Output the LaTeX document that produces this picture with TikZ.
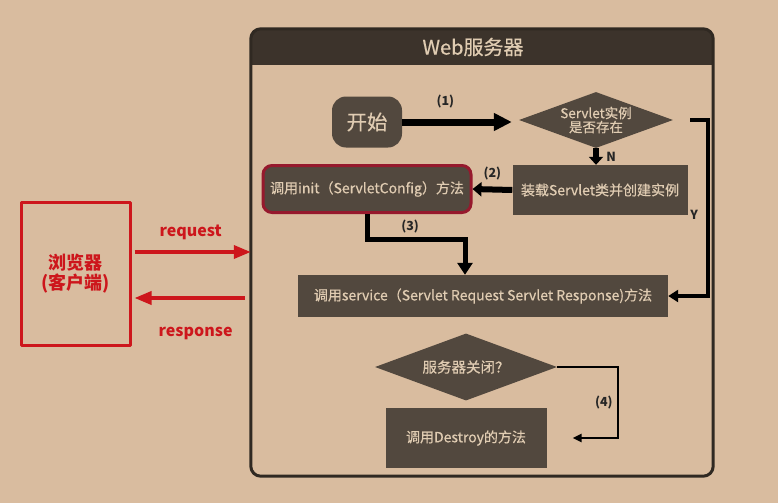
\documentclass[tikz,border=0pt]{standalone}
\usepackage{fontspec}
\setmainfont{Noto Sans CJK SC}
\newfontfamily\medfont{Noto Sans CJK SC}[FakeBold=0.5]
\usepackage{tikz}
\usetikzlibrary{arrows.meta,shapes.geometric}
\definecolor{paper}{RGB}{217,188,159}
\definecolor{boxbrown}{RGB}{82,72,62}
\definecolor{headbrown}{RGB}{60,51,43}
\definecolor{boxtext}{RGB}{224,204,178}
\definecolor{initred}{RGB}{150,25,45}
\definecolor{webred}{RGB}{205,22,28}

\begin{document}
\begin{tikzpicture}[line cap=round,line join=round,x=1pt,y=-1pt,
    box/.style={rectangle,fill=boxbrown,text=boxtext,inner sep=0pt,
        font=\medfont\fontsize{14}{16}\selectfont},
    ask/.style={diamond,fill=boxbrown,text=boxtext,inner sep=0pt,aspect=2.75,
        align=center,font=\medfont\fontsize{13.5}{14}\selectfont},
    flow/.style={line cap=butt,line join=miter,draw=black},
    lbl/.style={font=\fontsize{12.5}{14}\selectfont\bfseries,text=black!85},
    redarrow/.style={draw=webred,line width=3.5pt,line cap=butt,
        -{Triangle[length=17pt,width=13pt]}},
    redlbl/.style={font=\fontsize{16}{18}\selectfont\bfseries,text=webred}]

    \useasboundingbox (0,0) rectangle (778,503);
    \fill[paper] (0,0) rectangle (778,503);

    % web server frame
    \node[rectangle,minimum width=462pt,minimum height=447pt] (server) at (482,252.5) {};
    \fill[headbrown,rounded corners=10pt] (server.north west) rectangle ([yshift=-36pt]server.north east);
    \fill[headbrown] ([yshift=-18pt]server.north west) rectangle ([yshift=-36pt]server.north east);
    \draw[headbrown!80!black,line width=3pt,rounded corners=10pt] (server.north west) rectangle (server.south east);
    \node[text=boxtext,font=\medfont\fontsize{20}{22}\selectfont] (title) at (473,47) {Web服务器};

    % browser
    \node[draw=webred,line width=3pt,minimum width=109pt,minimum height=143pt,
        align=center,text=webred,font=\fontsize{18}{20}\selectfont\bfseries] (browser) at (75.5,273.5) {浏览器\\(客户端)};

    % steps
    \node[box,rounded corners=14pt,minimum width=70pt,minimum height=51pt,
        font=\medfont\fontsize{20.5}{22}\selectfont] (start) at (367,122) {开始};
    \node[ask,minimum width=154pt,minimum height=56pt] (check) at (596,120) {Servlet实例\\是否存在};
    \node[box,minimum width=175pt,minimum height=50pt] (load) at (600,190) {装载Servlet类并创建实例};
    \node[box,rounded corners=9pt,draw=initred,line width=3pt,minimum width=208pt,
        minimum height=47pt] (init) at (367,189) {调用init（ServletConfig）方法};
    \node[box,minimum width=370pt,minimum height=42pt] (service) at (483,296) {调用service（Servlet Request Servlet Response)方法};
    \node[ask,minimum width=182pt,minimum height=67pt,font=\medfont\fontsize{14.5}{16}\selectfont] (close) at (466,367) {服务器关闭？};
    \node[box,minimum width=161pt,minimum height=60pt] (destroy) at (466,438) {调用Destroy的方法};

    % connectors
    \draw[flow,line width=7pt,shorten >=7pt,-{Triangle[length=18pt,width=17pt]}]
        (start.east) -- node[lbl,pos=0.37,above=7pt] {(1)} (check.west |- start.east);
    \draw[flow,line width=6pt,-{Triangle[length=8pt,width=14pt]}]
        (check.south) -- node[lbl,right=4pt] {N} (check.south |- load.north);
    \draw[flow,line width=6pt,-{Triangle[length=9pt,width=14pt]}]
        (load.west) -- node[lbl,above=3pt] {(2)} (init.east);
    \draw[flow,line width=5pt,-{Triangle[length=12pt,width=15pt]}]
        (init.south) -- ++(0,25) -| node[lbl,pos=0.22,above=0pt] {(3)} ([xshift=-18pt]service.north);
    \draw[flow,line width=4pt,-{Triangle[length=10pt,width=12pt]}]
        ([xshift=17pt]check.east) -- ++(18,0) |- node[lbl,pos=0.27,left=5pt] {Y} (service.east);
    \draw[flow,line width=2.5pt,-{Triangle[length=9pt,width=8pt]}]
        (close.east) -- ++(61,0) |- node[lbl,pos=0.25,left=1pt] {(4)} ([xshift=26pt]destroy.east);

    % request / response
    \draw[redarrow] ([xshift=3pt,yshift=21.5pt]browser.east) --
        node[redlbl,above=7pt,xshift=-2pt] {request} ([yshift=21.5pt]browser.east -| server.west);
    \draw[redarrow] ([xshift=-6pt,yshift=-24.5pt]browser.east -| server.west) --
        node[redlbl,below=24pt,xshift=6pt] {response} ([xshift=3pt,yshift=-24.5pt]browser.east);
\end{tikzpicture}
\end{document}
